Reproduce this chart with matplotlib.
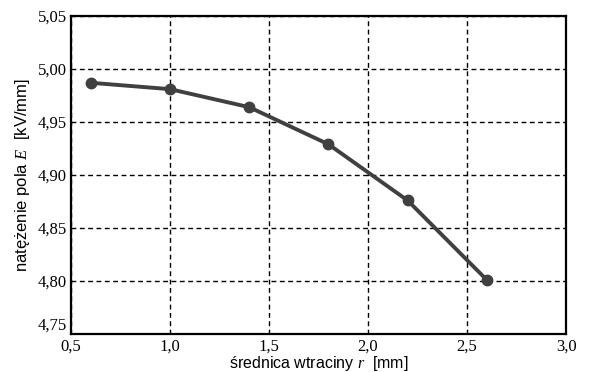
import matplotlib
matplotlib.use("Agg")
import matplotlib.pyplot as plt
from matplotlib.ticker import FixedLocator

# data
diameters = [0.6, 1.0, 1.4, 1.8, 2.2, 2.6]
field = [4.987, 4.981, 4.964, 4.929, 4.876, 4.801]
x_ticks = [0.5, 1.0, 1.5, 2.0, 2.5, 3.0]
y_ticks = [4.75, 4.80, 4.85, 4.90, 4.95, 5.00, 5.05]

plt.rcParams['mathtext.fontset'] = 'custom'
plt.rcParams['mathtext.it'] = 'Liberation Serif:italic'
plt.rcParams['mathtext.rm'] = 'Liberation Serif'

fig = plt.figure(figsize=(6.1, 3.72), dpi=100)
ax = fig.add_axes([0.1164, 0.102, 0.8116, 0.855])

ax.plot(diameters, field, color='#404040', lw=2.8, marker='o', ms=7.5, zorder=3)

ax.set_xlim(0.5, 3.0)
ax.set_ylim(4.75, 5.05)
ax.xaxis.set_major_locator(FixedLocator(x_ticks))
ax.yaxis.set_major_locator(FixedLocator(y_ticks))
ax.set_xticklabels([f"{v:.1f}".replace('.', ',') for v in x_ticks])
ax.set_yticklabels([f"{v:.2f}".replace('.', ',') for v in y_ticks])
for lab in ax.get_xticklabels() + ax.get_yticklabels():
    lab.set_fontfamily('Liberation Serif')
    lab.set_fontsize(12)
ax.get_yticklabels()[0].set_va('bottom')  # lowest label sits on the axis, as in the original
ax.tick_params(axis='x', length=0, pad=3)
ax.tick_params(axis='y', length=0, pad=3)

ax.grid(True, color='black', ls=(0, (3.5, 2.5)), lw=1)
for s in ax.spines.values():
    s.set_linewidth(1.6)

ax.set_xlabel(r"średnica wtraciny $r$  [mm]", family='Liberation Sans', fontsize=11.5, labelpad=0)
ax.set_ylabel(r"natężenie pola $E$  [kV/mm]", family='Liberation Sans', fontsize=12, labelpad=4)

fig.savefig("out.png", dpi=100)
